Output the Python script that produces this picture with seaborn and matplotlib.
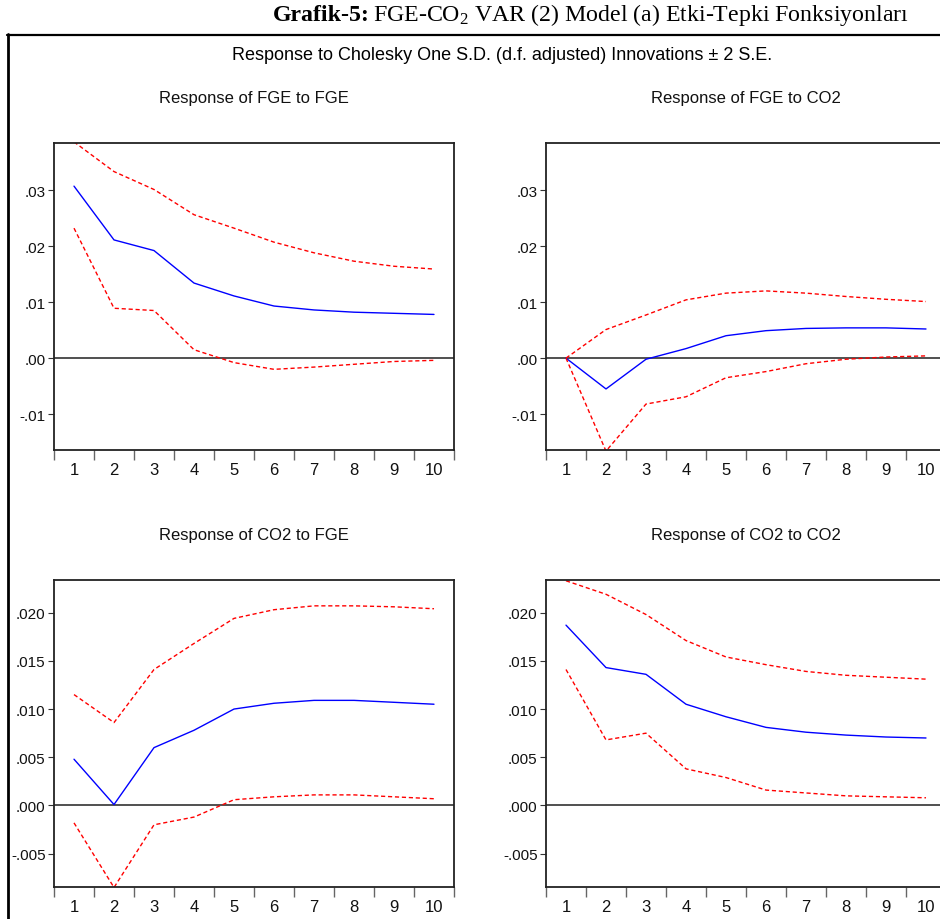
import numpy as np
import pandas as pd
import matplotlib
matplotlib.use("Agg")
import matplotlib.pyplot as plt
import seaborn as sns
from matplotlib.ticker import FuncFormatter
from matplotlib.lines import Line2D

# ---------------- data ----------------
periods = list(range(1, 11))

fge_fge_resp = [0.0307, 0.0211, 0.0192, 0.0134, 0.0111, 0.0093, 0.0086, 0.0082, 0.0080, 0.0078]
fge_fge_up = [0.0386, 0.0333, 0.0301, 0.0256, 0.0232, 0.0207, 0.0188, 0.0173, 0.0164, 0.0159]
fge_fge_lo = [0.0232, 0.0089, 0.0085, 0.0015, -0.0008, -0.0020, -0.0016, -0.0011, -0.0006, -0.0004]

fge_co2_resp = [0.0, -0.0055, -0.0002, 0.0017, 0.0040, 0.0049, 0.0053, 0.0054, 0.0054, 0.0052]
fge_co2_up = [0.0, 0.0051, 0.0077, 0.0104, 0.0116, 0.0120, 0.0116, 0.0110, 0.0105, 0.0101]
fge_co2_lo = [0.0, -0.0166, -0.0082, -0.0069, -0.0035, -0.0024, -0.0010, -0.0002, 0.0002, 0.0004]

co2_fge_resp = [0.0048, 0.0001, 0.0060, 0.0078, 0.0100, 0.0106, 0.0109, 0.0109, 0.0107, 0.0105]
co2_fge_up = [0.0115, 0.0086, 0.0141, 0.0168, 0.0194, 0.0203, 0.0207, 0.0207, 0.0206, 0.0204]
co2_fge_lo = [-0.0018, -0.0085, -0.0020, -0.0012, 0.0006, 0.0009, 0.0011, 0.0011, 0.0009, 0.0007]

co2_co2_resp = [0.0187, 0.0143, 0.0136, 0.0105, 0.0092, 0.0081, 0.0076, 0.0073, 0.0071, 0.0070]
co2_co2_up = [0.0233, 0.0219, 0.0198, 0.0171, 0.0154, 0.0146, 0.0139, 0.0135, 0.0133, 0.0131]
co2_co2_lo = [0.0141, 0.0068, 0.0075, 0.0038, 0.0029, 0.0016, 0.0013, 0.0010, 0.0009, 0.0008]

panel_titles = ["Response of FGE to FGE", "Response of FGE to CO2",
                "Response of CO2 to FGE", "Response of CO2 to CO2"]
top_yticks = [-0.01, 0.00, 0.01, 0.02, 0.03]
bottom_yticks = [-0.005, 0.000, 0.005, 0.010, 0.015, 0.020]

header_bold = "Grafik-5:"
header_rest = "FGE-CO$_2$ VAR (2) Model (a) Etki-Tepki Fonksiyonları"
subtitle = "Response to Cholesky One S.D. (d.f. adjusted) Innovations \u00b1 2 S.E."

# ---------------- style ----------------
sns.set_style("white")
plt.rcParams['font.family'] = ['Liberation Sans Narrow', 'Liberation Sans', 'DejaVu Sans']
plt.rcParams['mathtext.fontset'] = 'custom'
plt.rcParams['mathtext.rm'] = 'Liberation Serif'
plt.rcParams['mathtext.it'] = 'Liberation Serif:italic'

W, H = 940, 920
fig = plt.figure(figsize=(W / 100, H / 100), dpi=100)
fig.patch.set_facecolor('white')


def fx(px):
    return px / W


def fy(py):
    return (H - py) / H


# outer frame
fig.add_artist(Line2D([fx(8.3), fx(8.3)], [0, fy(35)], transform=fig.transFigure,
                      color='black', lw=2.0))
fig.add_artist(Line2D([fx(7.5), 1.0], [fy(35.5), fy(35.5)], transform=fig.transFigure,
                      color='black', lw=1.6))

# header
fig.text(fx(273), fy(21), header_bold, family='Liberation Serif', fontweight='bold',
         fontsize=17.2, ha='left', va='baseline', color='black')
fig.text(fx(373), fy(21), header_rest, family='Liberation Serif',
         fontsize=17.2, ha='left', va='baseline', color='black')
fig.text(fx(502), fy(55), subtitle, ha='center', va='center', fontsize=13, color='black')


def fmt2(v, p):
    return f"{v:.2f}".replace("0.", ".", 1)


def fmt3(v, p):
    return f"{v:.3f}".replace("0.", ".", 1)


def panel(left_px, top_px, resp, up, lo, title, ylim, yticks, fmt):
    ax = fig.add_axes([fx(left_px), fy(top_px + 307), fx(400), 307 / H])
    df = pd.DataFrame({
        'period': periods * 3,
        'value': resp + up + lo,
        'band': ['resp'] * 10 + ['upper'] * 10 + ['lower'] * 10,
    })
    ax.axhline(0, color='#505050', lw=1.4, zorder=1)
    sns.lineplot(data=df, x='period', y='value', hue='band', style='band',
                 palette={'resp': '#0000FF', 'upper': '#FF0000', 'lower': '#FF0000'},
                 dashes={'resp': '', 'upper': (3, 2), 'lower': (3, 2)},
                 linewidth=1.0, legend=False, ax=ax, estimator=None,
                 errorbar=None, sort=False, zorder=2)
    ax.set_xlim(0.5, 10.5)
    ax.set_ylim(*ylim)
    ax.set_xticks(periods)
    ax.set_xticklabels([str(p) for p in periods])
    ax.set_xticks(np.arange(0.5, 11.0, 1.0), minor=True)
    ax.tick_params(axis='x', which='major', length=0, pad=9, labelsize=12,
                   labelcolor='#111111', bottom=True)
    ax.tick_params(axis='x', which='minor', length=7, width=1.0, color='#666666',
                   direction='out', bottom=True)
    ax.set_yticks(yticks)
    ax.yaxis.set_major_formatter(FuncFormatter(fmt))
    ax.tick_params(axis='y', which='major', length=4.5, width=0.8, color='#333333',
                   direction='out', pad=1.5, labelsize=11, labelcolor='#111111', left=True)
    ax.set_xlabel('')
    ax.set_ylabel('')
    for s in ax.spines.values():
        s.set_color('#222222')
        s.set_linewidth(1.3)
    ax.text(0.5, 1.1466, title, transform=ax.transAxes, ha='center', va='center',
            fontsize=12, color='#111111')
    return ax


top_ylim = (-0.0164, 0.0384)
bot_ylim = (-0.00845, 0.02338)

panel(54, 144, fge_fge_resp, fge_fge_up, fge_fge_lo, panel_titles[0], top_ylim, top_yticks, fmt2)
panel(546, 144, fge_co2_resp, fge_co2_up, fge_co2_lo, panel_titles[1], top_ylim, top_yticks, fmt2)
panel(54, 581, co2_fge_resp, co2_fge_up, co2_fge_lo, panel_titles[2], bot_ylim, bottom_yticks, fmt3)
panel(546, 581, co2_co2_resp, co2_co2_up, co2_co2_lo, panel_titles[3], bot_ylim, bottom_yticks, fmt3)

fig.savefig("out.png", dpi=100, facecolor='white')
